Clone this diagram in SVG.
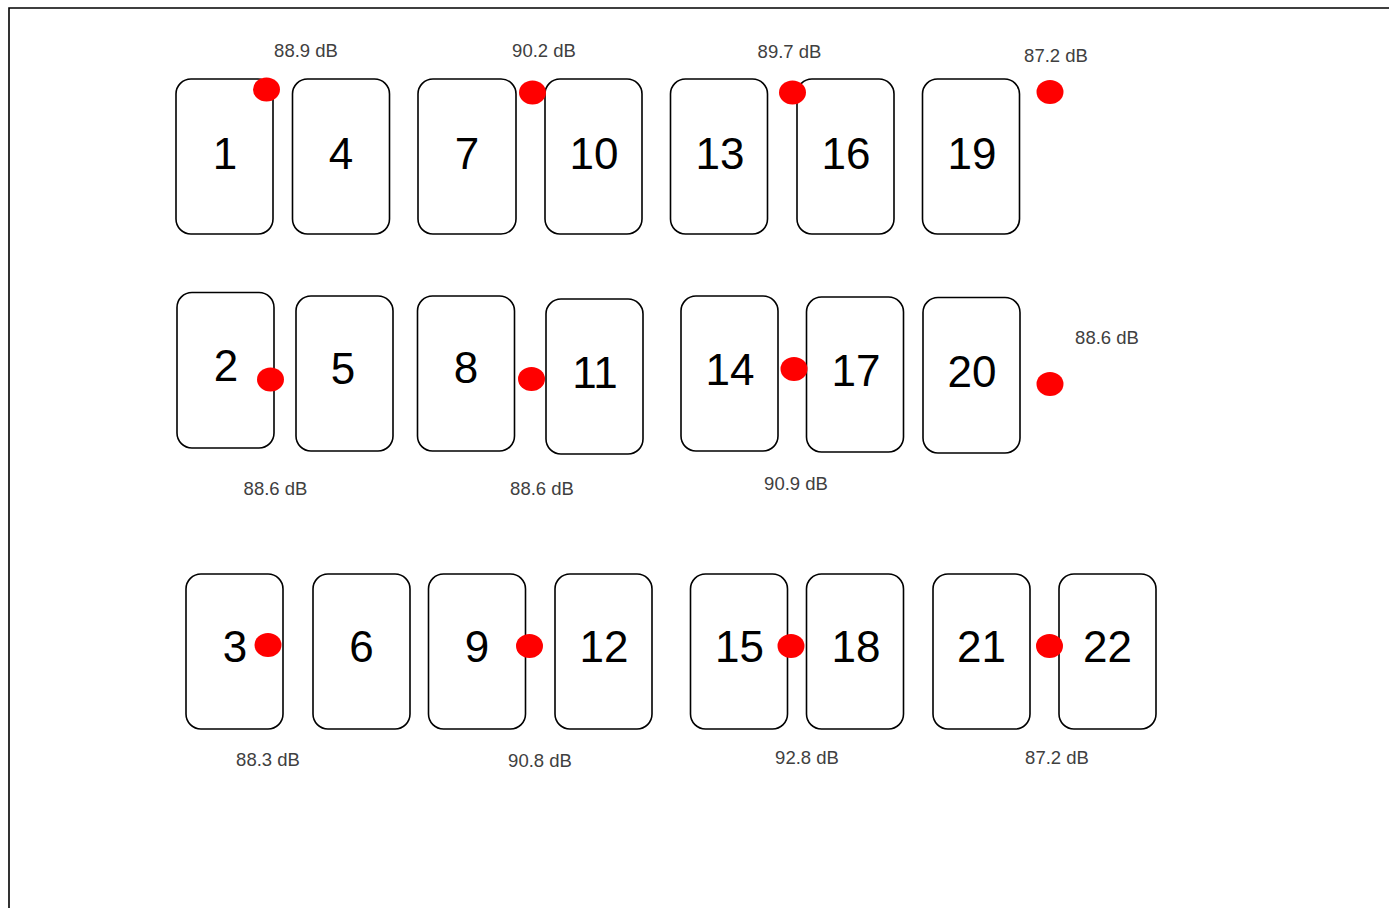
<svg xmlns="http://www.w3.org/2000/svg" width="1389" height="908" viewBox="0 0 1389 908">
<style>
.box{fill:#fff;stroke:#000;stroke-width:1.6}
.num{font-family:"Liberation Sans",Arial,sans-serif;font-size:44px;fill:#000;text-anchor:middle}
.lbl{font-family:"Liberation Sans",Arial,sans-serif;font-size:18.5px;fill:#404040;text-anchor:middle}
.dot{fill:#ff0000}
</style>
<rect width="1389" height="908" fill="#fff"/>
<path d="M9,908 V8 H1389" fill="none" stroke="#000" stroke-width="1.6"/>

<g id="n1"><rect class="box" x="176" y="79" width="97" height="155" rx="15"/><text class="num" x="225" y="169">1</text></g>
<g id="n4"><rect class="box" x="292.5" y="79" width="97" height="155" rx="15"/><text class="num" x="341" y="169">4</text></g>
<g id="n7"><rect class="box" x="418" y="79" width="98" height="155" rx="15"/><text class="num" x="467" y="169">7</text></g>
<g id="n10"><rect class="box" x="545" y="79" width="97" height="155" rx="15"/><text class="num" x="594" y="169">10</text></g>
<g id="n13"><rect class="box" x="670.5" y="79" width="97" height="155" rx="15"/><text class="num" x="720" y="169">13</text></g>
<g id="n16"><rect class="box" x="797" y="79" width="97" height="155" rx="15"/><text class="num" x="846" y="169">16</text></g>
<g id="n19"><rect class="box" x="922.5" y="79" width="97" height="155" rx="15"/><text class="num" x="972" y="169">19</text></g>

<g id="n2"><rect class="box" x="177" y="292.5" width="97" height="155.5" rx="15"/><text class="num" x="226" y="381">2</text></g>
<g id="n5"><rect class="box" x="296" y="296" width="97" height="155" rx="15"/><text class="num" x="343" y="383.5">5</text></g>
<g id="n8"><rect class="box" x="417.5" y="296" width="97" height="155" rx="15"/><text class="num" x="466" y="382.5">8</text></g>
<g id="n11"><rect class="box" x="546" y="299" width="97" height="155" rx="15"/><text class="num" x="595" y="388">11</text></g>
<g id="n14"><rect class="box" x="681" y="296" width="97" height="155" rx="15"/><text class="num" x="730" y="385">14</text></g>
<g id="n17"><rect class="box" x="806.5" y="297" width="97" height="155" rx="15"/><text class="num" x="856" y="386">17</text></g>
<g id="n20"><rect class="box" x="923" y="297.5" width="97" height="155.5" rx="15"/><text class="num" x="972" y="387">20</text></g>

<g id="n3"><rect class="box" x="186" y="574" width="97" height="155" rx="15"/><text class="num" x="235" y="662">3</text></g>
<g id="n6"><rect class="box" x="313" y="574" width="97" height="155" rx="15"/><text class="num" x="361.5" y="662">6</text></g>
<g id="n9"><rect class="box" x="428.5" y="574" width="97" height="155" rx="15"/><text class="num" x="477" y="662">9</text></g>
<g id="n12"><rect class="box" x="555" y="574" width="97" height="155" rx="15"/><text class="num" x="604" y="662">12</text></g>
<g id="n15"><rect class="box" x="690.5" y="574" width="97" height="155" rx="15"/><text class="num" x="739.5" y="662">15</text></g>
<g id="n18"><rect class="box" x="806.5" y="574" width="97" height="155" rx="15"/><text class="num" x="856" y="662">18</text></g>
<g id="n21"><rect class="box" x="933" y="574" width="97" height="155" rx="15"/><text class="num" x="981.5" y="662">21</text></g>
<g id="n22"><rect class="box" x="1059" y="574" width="97" height="155" rx="15"/><text class="num" x="1107.5" y="662">22</text></g>

<g id="connectors"></g>

<g id="measurements">
<ellipse class="dot" cx="266.5" cy="89.5" rx="13.5" ry="12"/>
<ellipse class="dot" cx="532.5" cy="92.5" rx="13.5" ry="12"/>
<ellipse class="dot" cx="792.5" cy="92.5" rx="13.5" ry="12"/>
<ellipse class="dot" cx="1050" cy="92" rx="13.5" ry="12"/>
<ellipse class="dot" cx="270.5" cy="379.5" rx="13.5" ry="12"/>
<ellipse class="dot" cx="531.5" cy="379" rx="13.5" ry="12"/>
<ellipse class="dot" cx="794" cy="369" rx="13.5" ry="12"/>
<ellipse class="dot" cx="1050" cy="384" rx="13.5" ry="12"/>
<ellipse class="dot" cx="268" cy="645" rx="13.5" ry="12"/>
<ellipse class="dot" cx="529.5" cy="646" rx="13.5" ry="12"/>
<ellipse class="dot" cx="791" cy="646" rx="13.5" ry="12"/>
<ellipse class="dot" cx="1049.5" cy="646" rx="13.5" ry="12"/>

<text class="lbl" x="306" y="57">88.9 dB</text>
<text class="lbl" x="544" y="57">90.2 dB</text>
<text class="lbl" x="789.5" y="58">89.7 dB</text>
<text class="lbl" x="1056" y="62">87.2 dB</text>
<text class="lbl" x="275.5" y="495">88.6 dB</text>
<text class="lbl" x="542" y="494.5">88.6 dB</text>
<text class="lbl" x="796" y="490">90.9 dB</text>
<text class="lbl" x="1107" y="344">88.6 dB</text>
<text class="lbl" x="268" y="766">88.3 dB</text>
<text class="lbl" x="540" y="767">90.8 dB</text>
<text class="lbl" x="807" y="764">92.8 dB</text>
<text class="lbl" x="1057" y="764">87.2 dB</text>
</g>
</svg>
